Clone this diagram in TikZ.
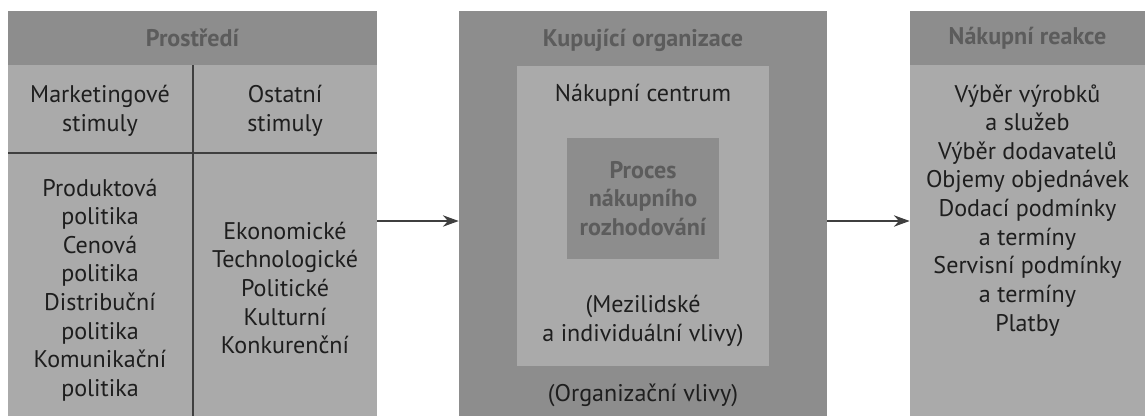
\documentclass[tikz,border=0pt]{standalone}
\usepackage{fontspec}
\setmainfont{PT Sans}
\usetikzlibrary{arrows.meta}
\definecolor{bodygray}{HTML}{AAAAAA}
\definecolor{darkgray}{HTML}{8D8D8D}
\definecolor{headtext}{HTML}{5C5C5C}
\definecolor{inktext}{HTML}{1E1E1E}
\definecolor{rulegray}{HTML}{3F3F3F}
\tikzset{
  panel/.style={rectangle, inner sep=0pt, fill=bodygray},
  darkpanel/.style={rectangle, inner sep=0pt, fill=darkgray},
  txt/.style={align=center, text=inktext, inner sep=0pt, font=\fontsize{13.7}{16.3}\selectfont},
  headtxt/.style={txt, text=headtext, font=\fontsize{13.7}{16.3}\selectfont\bfseries},
  divider/.style={draw=rulegray, line width=1pt},
}
\begin{document}
\begin{tikzpicture}[x=0.02cm, y=-0.02cm, line join=round, >={Stealth[length=9pt,width=6.5pt]}]
	\useasboundingbox (0,0) rectangle (1145,416);
	% Prostredi
	\node[panel, minimum width=7.38cm, minimum height=8.1cm] (envbox) at (192.5,213.5) {};
	\node[darkpanel, minimum width=7.38cm, minimum height=1.08cm] (envhead) at (192.5,38) {};
	\node[headtxt] (envtitle) at (envhead) {Prostředí};
	\draw[divider] (193,65) -- (193,416) (8,153) -- (377,153);
	\node[txt] (mkstim) at (100,111) {Marketingové\\stimuly};
	\node[txt] (otstim) at (285,111) {Ostatní\\stimuly};
	\node[txt] (mklist) at (100,290) {Produktová\\politika\\Cenová\\politika\\Distribuční\\politika\\Komunikační\\politika};
	\node[txt] (otlist) at (285,288) {Ekonomické\\Technologické\\Politické\\Kulturní\\Konkurenční};
	% Kupujici organizace
	\node[darkpanel, minimum width=7.36cm, minimum height=8.1cm] (orgbox) at (643,213.5) {};
	\node[headtxt] (orgtitle) at (643,40) {Kupující organizace};
	\node[panel, minimum width=5.04cm, minimum height=6cm] (centbox) at (643,216) {};
	\node[txt] (centtitle) at (643,95) {Nákupní centrum};
	\node[darkpanel, minimum width=3.04cm, minimum height=2.42cm] (procbox) at (643,198.5) {};
	\node[headtxt] (proctitle) at (procbox) {Proces\\nákupního\\rozhodování};
	\node[txt] (mezil) at (643,321) {(Mezilidské\\a individuální vlivy)};
	\node[txt] (orgvl) at (643,395) {(Organizační vlivy)};
	% Nakupni reakce
	\node[panel, minimum width=4.7cm, minimum height=8.1cm] (reacbox) at (1027.5,213.5) {};
	\node[darkpanel, minimum width=4.7cm, minimum height=1.08cm] (reachead) at (1027.5,38) {};
	\node[headtxt] (reactitle) at (reachead) {Nákupní reakce};
	\node[txt, anchor=north] (reaclist) at (1027.5,84) {Výběr výrobků\\a služeb\\Výběr dodavatelů\\Objemy objednávek\\Dodací podmínky\\a termíny\\Servisní podmínky\\a termíny\\Platby};
	% sipky
	\draw[->, draw=rulegray, line width=0.9pt] ([yshift=-0.15cm]envbox.east) -- ([yshift=-0.15cm]orgbox.west);
	\draw[->, draw=rulegray, line width=0.9pt] ([yshift=-0.15cm]orgbox.east) -- ([yshift=-0.15cm]reacbox.west);
\end{tikzpicture}
\end{document}
